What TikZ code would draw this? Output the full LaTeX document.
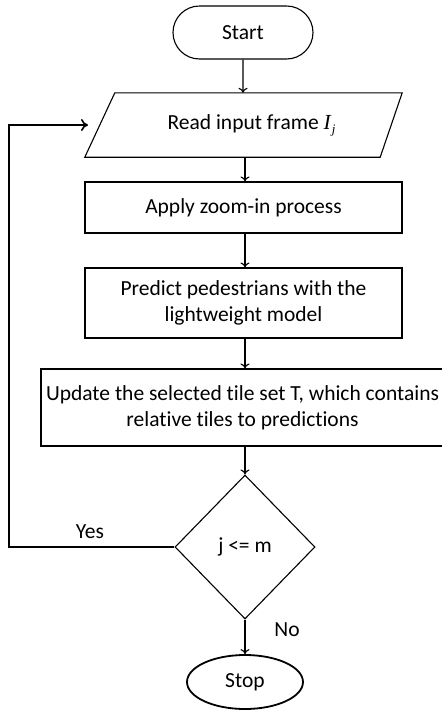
\documentclass[tikz,border=0pt]{standalone}
\usepackage{fontspec}
\setmainfont{Carlito}[Ligatures=NoCommon]
\newfontfamily\serifit{Liberation Serif}
\usetikzlibrary{shapes.geometric,shapes.misc,arrows.meta,calc}
\begin{document}
\begin{tikzpicture}[x=1pt,y=1pt,
  every node/.style={font=\fontsize{21.5}{26}\selectfont},
  box/.style={draw,line width=1.1pt,inner sep=0pt,align=center},
  arr/.style={line width=1.1pt,-{To[length=5pt,width=9pt]}},
  loopline/.style={line width=2.6pt,-{To[length=7pt,width=12pt,line width=1.6pt]}},
  lbl/.style={inner sep=0pt}]
\useasboundingbox (0,0) rectangle (442,-710);
\node[box,rounded rectangle,minimum width=140,minimum height=53] (start) at (243,-32.5) {Start};
\node[inner sep=0pt,minimum width=317,minimum height=64] (read) at (251.5,-125) {Read input frame {\serifit\itshape I}\kern1pt\raisebox{-4pt}{\fontsize{13}{13}\serifit\itshape j}};
\draw[line width=1.1pt] ($(read.north west)+(22,0)$) -- ($(read.north east)+(-8,0)$) -- ($(read.south east)+(-30,0)$) -- ($(read.south west)+(-8,0)$) -- cycle;
\node[box,minimum width=317,minimum height=51] (apply) at (243.5,-207.5) {Apply zoom-in process};
\node[box,minimum width=317,minimum height=70] (predict) at (243.5,-303) {Predict pedestrians with the\\lightweight model};
\node[box,minimum width=403,minimum height=77] (update) at (242.5,-407.5) {Update the selected tile set T, which contains\\relative tiles to predictions};
\node[box,diamond,minimum width=140,minimum height=144] (dec) at (245,-547) {j <= m};
\node[draw,line width=1.8pt,ellipse,inner sep=0pt,minimum width=116,minimum height=54] (stop) at (245,-682) {Stop};
\coordinate (c1) at (9,-547);
\coordinate (c2) at (9,-125);
\coordinate (c3) at (88,-125);
\node[lbl] (yes) at (90,-532) {Yes};
\node[lbl] (no) at (287,-630) {No};
\draw[arr] (start) -- (read.north -| start);
\draw[arr] (read.south -| 245,0) -- (apply.north -| 245,0);
\draw[arr] (apply.south -| 245,0) -- (predict.north -| 245,0);
\draw[arr] (predict.south -| 245,0) -- (update.north -| 245,0);
\draw[arr] (update.south -| 245,0) -- (dec.north);
\draw[arr] (dec.south) -- (stop.north);
\draw[loopline] (dec.west) -- (c1) -- (c2) -- (c3);
\end{tikzpicture}
\end{document}
